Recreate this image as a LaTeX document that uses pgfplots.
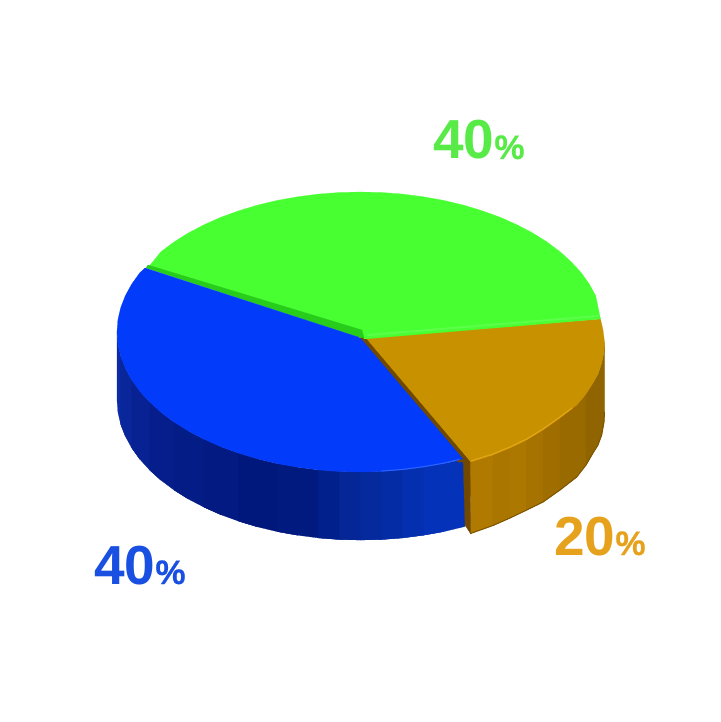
\documentclass[border=0pt]{standalone}
\usepackage{pgfplots}
\pgfplotsset{compat=1.18}
\usepackage{fontspec}
\setmainfont{Liberation Sans}
\newfontfamily\pct[FakeBold=0.6]{Liberation Sans}

\definecolor{bluetop}{RGB}{2,60,250}
\definecolor{bluelight}{RGB}{45,100,255}
\definecolor{greentop}{RGB}{72,255,50}
\definecolor{greenlight}{RGB}{92,255,74}
\definecolor{greendark}{RGB}{40,205,28}
\definecolor{browntop}{RGB}{200,145,0}
\definecolor{brownlight}{RGB}{226,166,20}
\definecolor{browndark}{RGB}{112,72,0}
\definecolor{brownedge}{RGB}{125,85,0}
\definecolor{labelgreen}{RGB}{88,235,72}
\definecolor{labelblue}{RGB}{25,80,225}
\definecolor{labelbrown}{RGB}{230,162,28}
% side shades
\definecolor{ba}{RGB}{12,42,165}
\definecolor{bb}{RGB}{10,38,155}
\definecolor{bc}{RGB}{8,34,148}
\definecolor{bd}{RGB}{6,30,140}
\definecolor{be}{RGB}{4,28,134}
\definecolor{bf}{RGB}{2,26,130}
\definecolor{bg}{RGB}{0,24,124}
\definecolor{bh}{RGB}{0,26,128}
\definecolor{bi}{RGB}{2,32,140}
\definecolor{bj}{RGB}{4,38,150}
\definecolor{bk}{RGB}{4,42,158}
\definecolor{bl}{RGB}{4,44,164}
\definecolor{bm}{RGB}{4,48,176}
\definecolor{bn}{RGB}{4,50,185}
\definecolor{ca}{RGB}{176,122,0}
\definecolor{cb}{RGB}{170,118,0}
\definecolor{cc}{RGB}{172,120,0}
\definecolor{cd}{RGB}{166,114,0}
\definecolor{ce}{RGB}{160,110,0}
\definecolor{cf}{RGB}{152,106,0}
\definecolor{cg}{RGB}{144,100,0}

% one filled face of the pie, in picture coordinates
\newcommand{\face}[2]{\addplot[fill=#1,draw=#1,line width=0.2pt] coordinates {#2} -- cycle;}
\newcommand{\edge}[3]{\addplot[draw=#1,line width=#2,line cap=round] coordinates {#3};}

\begin{document}
\begin{tikzpicture}
\path[use as bounding box] (0,0) rectangle (720pt,722pt);
\begin{axis}[
    at={(0,0)},anchor=south west,
    scale only axis,width=720pt,height=722pt,
    xmin=0,xmax=720,ymin=0,ymax=722,
    y dir=reverse,
    hide axis,clip=false,
]
% blue side, left to right, each strip running under the next
\face{ba}{(117,332)(117.9,344.2)(120.7,356.3)(125.3,368.2)(125.3,436.2)(120.7,424.3)(117.9,412.2)(117,400)}
\face{bb}{(120.7,356.3)(125.3,368.2)(131.7,379.9)(139.8,391.2)(139.8,459.2)(131.7,447.9)(125.3,436.2)(120.7,424.3)}
\face{bc}{(131.7,379.9)(139.8,391.2)(149.6,402)(161,412.3)(161,480.3)(149.6,470)(139.8,459.2)(131.7,447.9)}
\face{bd}{(149.6,402)(161,412.3)(174,422)(188.3,431)(188.3,499)(174,490)(161,480.3)(149.6,470)}
\face{be}{(174,422)(188.3,431)(204,439.2)(220.8,446.7)(220.8,514.7)(204,507.2)(188.3,499)(174,490)}
\face{bf}{(204,439.2)(220.8,446.7)(238.7,453.2)(257.6,458.9)(257.6,526.9)(238.7,521.2)(220.8,514.7)(204,507.2)}
\face{bg}{(238.7,453.2)(257.6,458.9)(277.2,463.6)(297.5,467.2)(297.5,535.2)(277.2,531.6)(257.6,526.9)(238.7,521.2)}
\face{bh}{(277.2,463.6)(297.5,467.2)(318.2,469.9)(339.3,471.5)(339.3,539.5)(318.2,537.9)(297.5,535.2)(277.2,531.6)}
\face{bi}{(318.2,469.9)(339.3,471.5)(360.5,472)(360.5,540)(339.3,539.5)(318.2,537.9)}
\face{bj}{(339.3,471.5)(360.5,472)(381.7,471.5)(381.7,539.5)(360.5,540)(339.3,539.5)}
\face{bk}{(360.5,472)(381.7,471.5)(402.8,469.9)(402.8,537.9)(381.7,539.5)(360.5,540)}
\face{bl}{(381.7,471.5)(402.8,469.9)(423.5,467.2)(423.5,535.2)(402.8,537.9)(381.7,539.5)}
\face{bm}{(402.8,469.9)(423.5,467.2)(443.8,463.6)(443.8,531.6)(423.5,535.2)(402.8,537.9)}
\face{bn}{(423.5,467.2)(443.8,463.6)(465,459)(465,526.5)(443.8,531.6)(423.5,535.2)}
% brown side
\face{ca}{(470,461)(493,455)(510,448)(510,518)(493,525.5)(470.5,533.5)}
\face{cb}{(493,455)(510,448)(526.7,440)(526.7,510)(510,518)(493,525.5)}
\face{cc}{(510,448)(526.7,440)(543,430)(543,502)(526.7,510)(510,518)}
\face{cd}{(526.7,440)(543,430)(560,418)(560,490)(543,502)(526.7,510)}
\face{ce}{(543,430)(560,418)(576.7,405)(576.7,477)(560,490)(543,502)}
\face{cf}{(560,418)(576.7,405)(586,394)(593,383)(593,453)(586,465)(576.7,477)(560,490)}
\face{cg}{(586,394)(593,383)(598,374)(601.7,363)(604,352)(604.5,342)(604.5,412)(604,422)(601.7,435)(598,445)(593,453)(586,465)}
\face{browndark}{(463,456)(470,461.7)(470.7,534)(465,525)}
\edge{brownedge}{1pt}{(470.5,533.5)(493,525.5)(510,518)(526.7,510)(543,502)(560,490)(576.7,477)(586,465)(593,453)(598,445)(601.7,435)(604,422)(604.5,412)}
% brown top
\face{browndark}{(358,338)(366,336)(471,462)(458,462)}
\face{browntop}{(366,338)(600.5,319)(603,330)(604.5,342)(604,352)(601.7,363)(598,374)(593,383)(586,394)(576.7,405)(560,418)(543,430)(526.7,440)(510,448)(493,455)(471,462)}
\edge{brownlight}{1.2pt}{(471,461)(493,454)(510,447)(526.7,439)(543,429)(560,417)(572,408)}
% green top
\face{greentop}{(149,266.5)(161,251.7)(174,242)(188.3,233)(204,224.8)(220.8,217.3)(238.7,210.8)(257.6,205.1)(277.2,200.4)(297.5,196.8)(318.2,194.1)(339.3,192.5)(360.5,192)(381.7,192.5)(402.8,194.1)(423.5,196.8)(443.8,200.4)(463.4,205.1)(482.3,210.8)(500.2,217.3)(517,224.8)(532.7,233)(547,242)(560,251.7)(571.4,262)(581.2,272.8)(589.3,284.1)(595.7,295.8)(600.5,319)(364,339)(362,332)}
\edge{greenlight}{2pt}{(368,335)(598,316)}
\face{greendark}{(148,265)(362,330)(364,338)(358,337)(146,268)}
% blue top
\face{bluetop}{(145,268)(358,337)(362,340)(463,459)(443.8,463.6)(423.5,467.2)(402.8,469.9)(381.7,471.5)(360.5,472)(339.3,471.5)(318.2,469.9)(297.5,467.2)(277.2,463.6)(257.6,458.9)(238.7,453.2)(220.8,446.7)(204,439.2)(188.3,431)(174,422)(161,412.3)(149.6,402)(139.8,391.2)(131.7,379.9)(125.3,368.2)(120.7,356.3)(117.9,344.2)(117,332)(117.9,319.8)(120.7,307.7)(125.3,295.8)(131.7,284.1)(139.8,272.8)}
\edge{bluelight}{1pt}{(381.7,471)(402.8,469.4)(423.5,466.7)(443.8,463.1)(459,459.5)}
% labels
\node[anchor=base west,inner sep=0pt,text=labelgreen,font=\fontsize{55}{55}\selectfont\bfseries] at (axis cs:433,159) {40{\pct\fontsize{34}{34}\selectfont\%}};
\node[anchor=base west,inner sep=0pt,text=labelblue,font=\fontsize{55}{55}\selectfont\bfseries] at (axis cs:94,584) {40{\pct\fontsize{34}{34}\selectfont\%}};
\node[anchor=base west,inner sep=0pt,text=labelbrown,font=\fontsize{55}{55}\selectfont\bfseries] at (axis cs:554,555) {20{\pct\fontsize{34}{34}\selectfont\%}};
\end{axis}
\end{tikzpicture}
\end{document}
